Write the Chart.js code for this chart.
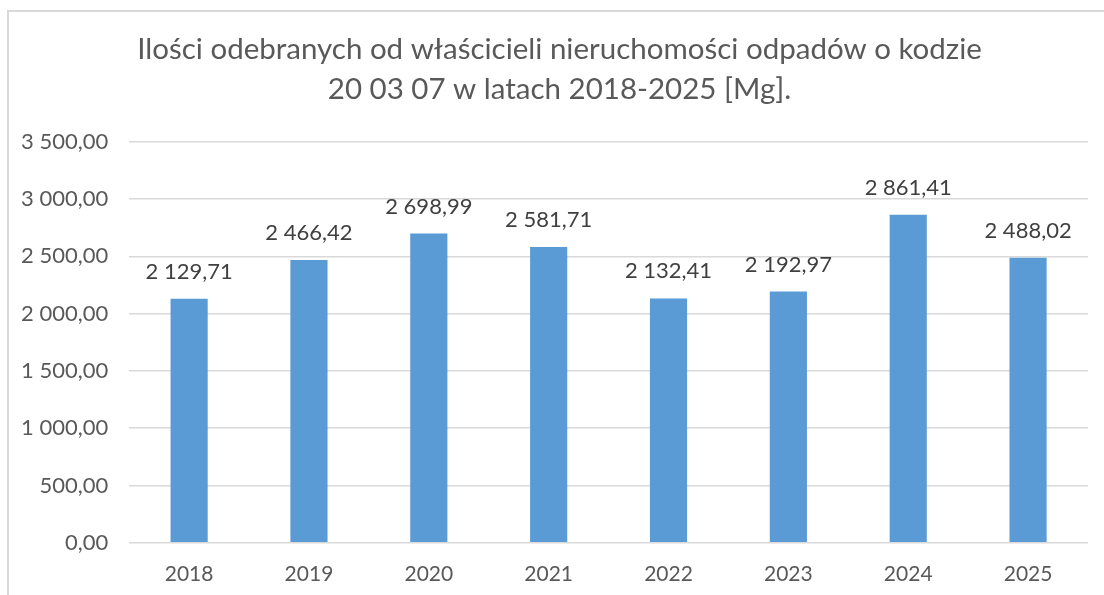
<!DOCTYPE html>
<html>
<head>
<meta charset="utf-8">
<script src="https://cdn.jsdelivr.net/npm/chart.js@4"></script>
<style>
  html, body { margin: 0; padding: 0; background: #fff; overflow: hidden; }
  #frame { position: absolute; left: 7px; top: 10px; width: 1200px; height: 700px;
           border-left: 2px solid #d9d9d9; border-top: 2px solid #d9d9d9; }
  #wrap { position: absolute; left: 0; top: 0; width: 1134px; height: 595px; }
</style>
</head>
<body>
<div id="frame"></div>
<div id="wrap"><canvas id="odpadyChart"></canvas></div>
<script>
const years = ['2018', '2019', '2020', '2021', '2022', '2023', '2024', '2025'];
const tonnes = [2129.71, 2466.42, 2698.99, 2581.71, 2132.41, 2192.97, 2861.41, 2488.02];
const titleLines = [
    'Ilości odebranych od właścicieli nieruchomości odpadów o kodzie',
    '20 03 07 w latach 2018-2025 [Mg].'
];

const FONT = 'Lato, "Open Sans", sans-serif';

// format like 2 129,71
function fmt(v) {
    const parts = v.toFixed(2).split('.');
    const whole = parts[0].replace(/\B(?=(\d{3})+(?!\d))/g, ' ');
    return whole + ',' + parts[1];
}

const valueLabels = {
    id: 'valueLabels',
    afterDatasetsDraw(chart) {
        const ctx = chart.ctx;
        const meta = chart.getDatasetMeta(0);
        ctx.save();
        ctx.font = '22px ' + FONT;
        ctx.fillStyle = '#404040';
        ctx.textAlign = 'center';
        ctx.textBaseline = 'middle';
        meta.data.forEach((bar, i) => {
            ctx.fillText(fmt(tonnes[i]), bar.x, bar.y - 27);
        });
        ctx.restore();
    }
};

const config = {
    type: 'bar',
    data: {
        labels: years,
        datasets: [{
            data: tonnes,
            backgroundColor: '#5b9bd5',
            borderWidth: 0,
            categoryPercentage: 1,
            barPercentage: 0.31,
        }]
    },
    options: {
        responsive: true,
        maintainAspectRatio: false,
        animation: false,
        layout: {
            padding: { top: 30, right: 15, bottom: -11, left: 0 }
        },
        plugins: {
            legend: { display: false },
            tooltip: { enabled: false },
            title: {
                display: true,
                text: titleLines,
                color: '#595959',
                font: { family: FONT, size: 29.5, weight: 'normal', lineHeight: 1.35 },
                padding: { top: 0, bottom: 32 },
            },
        },
        scales: {
            y: {
                min: 0,
                max: 3500,
                ticks: {
                    stepSize: 500,
                    padding: 21,
                    color: '#595959',
                    font: { family: FONT, size: 22 },
                    callback: (v) => fmt(v),
                },
                grid: { color: '#d9d9d9', lineWidth: 1.5, drawTicks: false },
                border: { display: false },
            },
            // empty spacer on the right so the title centre lines up
            spacer: {
                type: 'linear',
                position: 'right',
                afterFit(scale) { scale.width = 31; },
                ticks: { display: false },
                grid: { display: false, drawTicks: false },
                border: { display: false },
            },
            x: {
                ticks: {
                    padding: 19,
                    color: '#595959',
                    font: { family: FONT, size: 21 },
                },
                grid: { display: false, drawTicks: false },
                border: { display: false },
            },
        },
    },
    plugins: [valueLabels],
};

const odpadyChart = new Chart(document.getElementById('odpadyChart'), config);
</script>
</body>
</html>
